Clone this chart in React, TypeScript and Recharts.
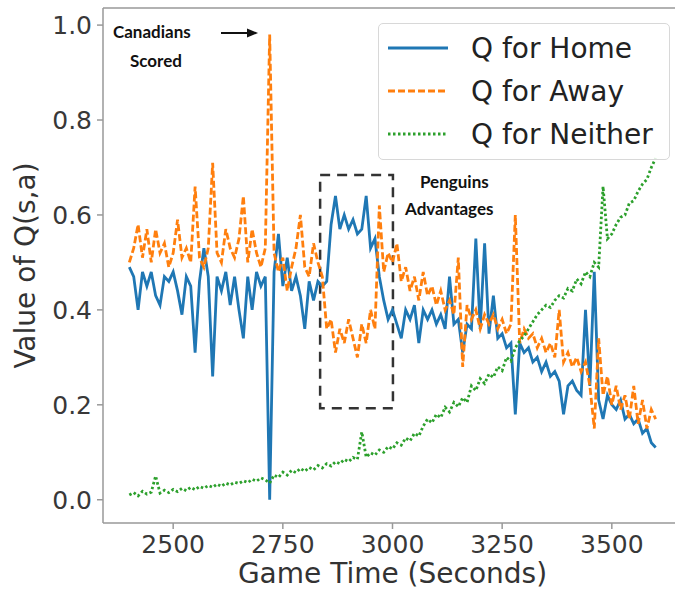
import React from "react"
import { LineChart, Line, XAxis, YAxis, ReferenceArea } from "recharts"

// game time in seconds, one sample every 10 s
const time = [
  2400, 2410, 2420, 2430, 2440, 2450, 2460, 2470, 2480, 2490,
  2500, 2510, 2520, 2530, 2540, 2550, 2560, 2570, 2580, 2590,
  2600, 2610, 2620, 2630, 2640, 2650, 2660, 2670, 2680, 2690,
  2700, 2710, 2720, 2730, 2740, 2750, 2760, 2770, 2780, 2790,
  2800, 2810, 2820, 2830, 2840, 2850, 2860, 2870, 2880, 2890,
  2900, 2910, 2920, 2930, 2940, 2950, 2960, 2970, 2980, 2990,
  3000, 3010, 3020, 3030, 3040, 3050, 3060, 3070, 3080, 3090,
  3100, 3110, 3120, 3130, 3140, 3150, 3160, 3170, 3180, 3190,
  3200, 3210, 3220, 3230, 3240, 3250, 3260, 3270, 3280, 3290,
  3300, 3310, 3320, 3330, 3340, 3350, 3360, 3370, 3380, 3390,
  3400, 3410, 3420, 3430, 3440, 3450, 3460, 3470, 3480, 3490,
  3500, 3510, 3520, 3530, 3540, 3550, 3560, 3570, 3580, 3590,
  3600,
]

const qHome = [
  0.49, 0.47, 0.40, 0.48, 0.45, 0.48, 0.43, 0.41, 0.47, 0.46,
  0.48, 0.44, 0.39, 0.47, 0.45, 0.31, 0.46, 0.53, 0.47, 0.26,
  0.47, 0.44, 0.48, 0.41, 0.47, 0.40, 0.34, 0.47, 0.40, 0.48,
  0.45, 0.47, 0.00, 0.48, 0.56, 0.45, 0.51, 0.44, 0.47, 0.43,
  0.36, 0.46, 0.42, 0.46, 0.45, 0.46, 0.58, 0.64, 0.57, 0.60,
  0.57, 0.59, 0.56, 0.57, 0.64, 0.53, 0.55, 0.47, 0.42, 0.38,
  0.40, 0.37, 0.34, 0.40, 0.38, 0.41, 0.33, 0.40, 0.38, 0.40,
  0.37, 0.39, 0.36, 0.47, 0.37, 0.38, 0.31, 0.37, 0.36, 0.55,
  0.36, 0.54, 0.35, 0.43, 0.34, 0.35, 0.32, 0.33, 0.18, 0.33,
  0.31, 0.32, 0.29, 0.30, 0.27, 0.29, 0.26, 0.27, 0.25, 0.18,
  0.24, 0.25, 0.23, 0.22, 0.40, 0.24, 0.48, 0.21, 0.17, 0.22,
  0.20, 0.19, 0.21, 0.17, 0.18, 0.16, 0.17, 0.14, 0.15, 0.12,
  0.11,
]

const qAway = [
  0.50, 0.53, 0.58, 0.51, 0.57, 0.50, 0.57, 0.52, 0.54, 0.49,
  0.52, 0.59, 0.51, 0.53, 0.50, 0.66, 0.51, 0.49, 0.53, 0.71,
  0.52, 0.50, 0.57, 0.53, 0.51, 0.55, 0.64, 0.50, 0.57, 0.52,
  0.49, 0.53, 0.98, 0.52, 0.48, 0.51, 0.44, 0.49, 0.53, 0.60,
  0.49, 0.47, 0.54, 0.50, 0.47, 0.36, 0.38, 0.31, 0.36, 0.33,
  0.38, 0.34, 0.30, 0.37, 0.33, 0.40, 0.36, 0.62, 0.48, 0.52,
  0.50, 0.54, 0.46, 0.49, 0.44, 0.47, 0.42, 0.48, 0.43, 0.45,
  0.41, 0.44, 0.40, 0.42, 0.39, 0.51, 0.28, 0.41, 0.38, 0.40,
  0.36, 0.39, 0.37, 0.39, 0.36, 0.38, 0.35, 0.37, 0.60, 0.33,
  0.36, 0.34, 0.35, 0.32, 0.34, 0.31, 0.33, 0.30, 0.40, 0.29,
  0.31, 0.28, 0.30, 0.27, 0.29, 0.24, 0.15, 0.34, 0.22, 0.26,
  0.20, 0.24, 0.19, 0.22, 0.17, 0.24, 0.16, 0.21, 0.15, 0.19,
  0.17,
]

const qNeither = [
  0.010, 0.015, 0.008, 0.018, 0.012, 0.016, 0.050, 0.014, 0.020, 0.015,
  0.022, 0.017, 0.024, 0.019, 0.026, 0.021, 0.028, 0.024, 0.030, 0.026,
  0.033, 0.028, 0.035, 0.031, 0.037, 0.034, 0.040, 0.036, 0.043, 0.039,
  0.046, 0.042, 0.035, 0.052, 0.047, 0.058, 0.052, 0.062, 0.057, 0.066,
  0.060, 0.068, 0.063, 0.072, 0.067, 0.076, 0.071, 0.080, 0.076, 0.085,
  0.080, 0.089, 0.085, 0.143, 0.090, 0.099, 0.094, 0.105, 0.100, 0.112,
  0.107, 0.120, 0.115, 0.130, 0.124, 0.140, 0.134, 0.155, 0.170, 0.162,
  0.180, 0.173, 0.195, 0.185, 0.205, 0.196, 0.215, 0.205, 0.240, 0.230,
  0.255, 0.245, 0.265, 0.258, 0.280, 0.272, 0.300, 0.292, 0.320, 0.335,
  0.345, 0.360, 0.375, 0.390, 0.400, 0.410, 0.405, 0.420, 0.430, 0.425,
  0.445, 0.440, 0.465, 0.455, 0.480, 0.470, 0.500, 0.490, 0.660, 0.550,
  0.560, 0.580, 0.595, 0.600, 0.625, 0.630, 0.650, 0.665, 0.675, 0.700,
  0.720,
]

const xTicks = [2500, 2750, 3000, 3250, 3500]
const yTicks = [0, 0.2, 0.4, 0.6, 0.8, 1.0]

const data = time.map((t, i) => ({
  t,
  home: qHome[i],
  away: qAway[i],
  neither: qNeither[i],
}))

const FONT = "'DejaVu Sans', sans-serif"
const NOTE_FONT = "Lato, 'Open Sans', sans-serif"
const BLUE = "#1f77b4"
const ORANGE = "#ff7f0e"
const GREEN = "#2ca02c"

const legendItems = [
  { name: "Q for Home", color: BLUE, dash: undefined },
  { name: "Q for Away", color: ORANGE, dash: "7 3" },
  { name: "Q for Neither", color: GREEN, dash: "2.5 2.5" },
]

function LegendBox() {
  return (
    <div
      style={{
        position: "absolute",
        left: 378,
        top: 23,
        width: 292,
        height: 137,
        border: "1px solid #d8d8d8",
        borderRadius: 5,
        background: "rgba(255,255,255,0.85)",
        boxSizing: "border-box",
        fontFamily: FONT,
        fontSize: 28,
        color: "#222",
      }}
    >
      {legendItems.map((item, i) => (
        <div
          key={item.name}
          style={{ position: "absolute", left: 8, top: 6 + i * 43, height: 36, display: "flex", alignItems: "center" }}
        >
          <svg width={62} height={10} style={{ marginRight: 22 }}>
            <line x1={1} y1={5} x2={61} y2={5} stroke={item.color} strokeWidth={2.8} strokeDasharray={item.dash} />
          </svg>
          <span>{item.name}</span>
        </div>
      ))}
    </div>
  )
}

export default function App() {
  return (
    <div style={{ position: "absolute", left: 0, top: 0, width: 675, height: 591, overflow: "hidden", background: "#fff" }}>
      <LineChart width={690} height={591} data={data} margin={{ top: 8, right: 8, bottom: 0, left: 0 }}>
        <XAxis
          dataKey="t"
          type="number"
          domain={[2340, 3660]}
          allowDataOverflow
          ticks={xTicks}
          height={68}
          tickSize={6}
          tickMargin={6}
          stroke="#999"
          strokeWidth={1.5}
          tick={{ fontSize: 25, fill: "#383838", fontFamily: FONT }}
          label={{ value: "Game Time (Seconds)", position: "insideBottom", offset: 8, style: { fontSize: 28, fill: "#333", fontFamily: FONT } }}
        />
        <YAxis
          type="number"
          domain={[-0.049, 1.036]}
          allowDataOverflow
          ticks={yTicks}
          width={103}
          tickSize={6}
          tickMargin={5}
          stroke="#999"
          strokeWidth={1.5}
          tickFormatter={(v) => v.toFixed(1)}
          tick={{ fontSize: 25, fill: "#383838", fontFamily: FONT }}
          label={{ value: "Value of Q(s,a)", angle: -90, position: "insideLeft", offset: 25, style: { fontSize: 28, fill: "#333", fontFamily: FONT, textAnchor: "middle" } }}
        />
        <Line dataKey="home" stroke={BLUE} strokeWidth={2.8} dot={false} isAnimationActive={false} />
        <Line dataKey="away" stroke={ORANGE} strokeWidth={2.8} strokeDasharray="7 3" dot={false} isAnimationActive={false} />
        <Line dataKey="neither" stroke={GREEN} strokeWidth={2.8} strokeDasharray="2.5 2.5" dot={false} isAnimationActive={false} />
        <ReferenceArea
          x1={2835}
          x2={3001}
          y1={0.193}
          y2={0.684}
          fill="none"
          fillOpacity={0}
          stroke="#333"
          strokeWidth={2.5}
          strokeDasharray="10 7"
          ifOverflow="visible"
        />
      </LineChart>
      <svg width={675} height={591} style={{ position: "absolute", left: 0, top: 0, pointerEvents: "none" }}>
        <line x1={103} y1={8} x2={675} y2={8} stroke="#999" strokeWidth={1.5} />
        <g fontFamily={NOTE_FONT} fontWeight="bold" fontSize={17} fill="#111">
          <text x={113} y={38}>Canadians</text>
          <text x={130} y={67}>Scored</text>
          <text x={420} y={188}>Penguins</text>
          <text x={405} y={215}>Advantages</text>
        </g>
        <line x1={221} y1={33} x2={249} y2={33} stroke="#111" strokeWidth={2} />
        <polygon points="258,33 247,28.5 247,37.5" fill="#111" />
      </svg>
      <LegendBox />
    </div>
  )
}
